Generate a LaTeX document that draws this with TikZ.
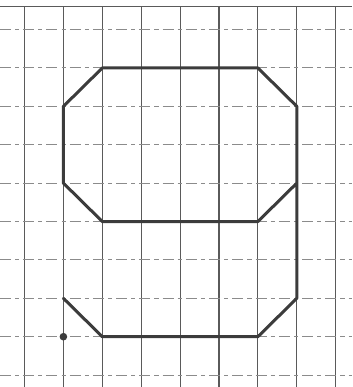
\documentclass[tikz,border=0pt]{standalone}
\usepackage{xcolor}
\usepackage{tikz}
\definecolor{ink}{RGB}{60,60,60}
\definecolor{gridc}{RGB}{90,90,90}

\begin{document}
\begin{tikzpicture}[
  x=1cm, y=-0.987cm,
  vline/.style={draw=gridc,line width=0.8pt},
  hline/.style={draw=gridc!70,line width=0.7pt,dash pattern=on 8pt off 3pt on 3pt off 3pt},
  digit/.style={draw=ink,line width=2.2pt,line join=round,line cap=round}
]
  \useasboundingbox (-0.63,-0.77) rectangle (8.42,9.31);
  % paper edge and grid
  \draw[vline] (-0.63,-0.59) -- (8.42,-0.59);
  \foreach \i in {0,...,8}
    \draw[vline] (\i,-0.59) -- (\i,9.31);
  \foreach \j in {0,...,9}
    \draw[hline] (-0.63,\j) -- (8.42,\j);
  % the digit
  \draw[digit] (1,7) -- (2,8) -- (6,8) -- (7,7) -- (7,2) -- (6,1) -- (2,1)
    -- (1,2) -- (1,4) -- (2,5) -- (6,5) -- (7,4);
  \fill[ink] (1,8) circle (2.8pt);
\end{tikzpicture}
\end{document}
